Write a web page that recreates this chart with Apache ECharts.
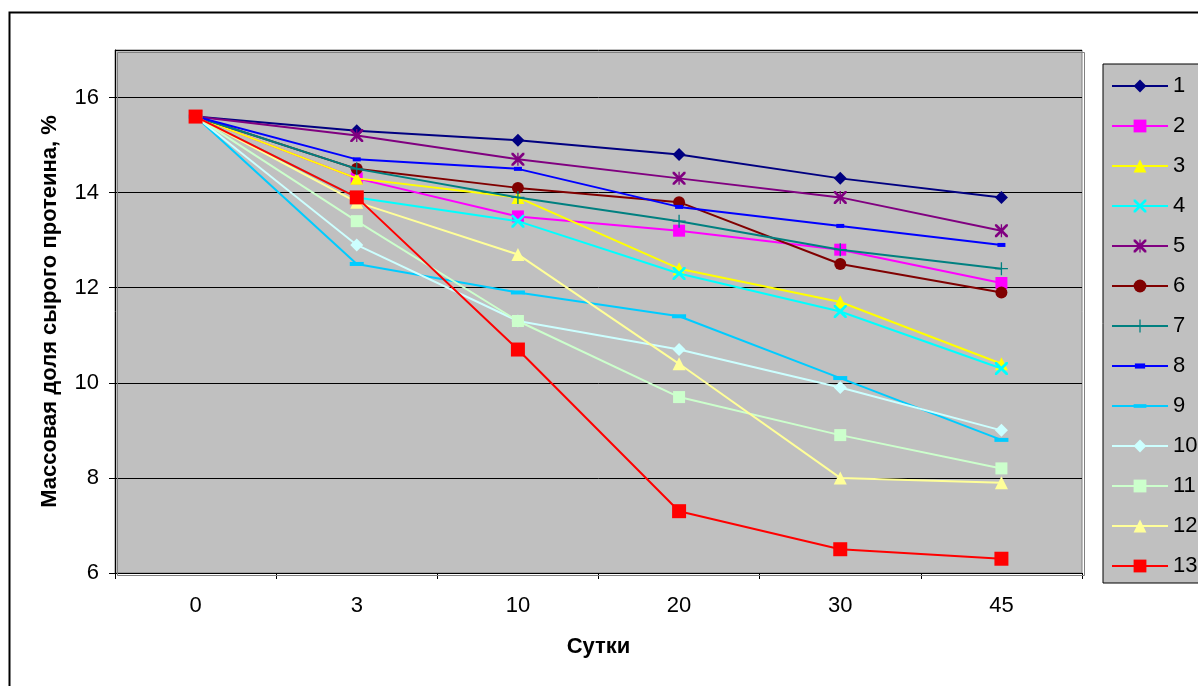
<!DOCTYPE html>
<html>
<head>
<meta charset="utf-8">
<script src="https://cdn.jsdelivr.net/npm/echarts@6/dist/echarts.min.js"></script>
<style>
  html, body { margin: 0; padding: 0; background: #ffffff; }
  #chart { width: 1198px; height: 686px; }
</style>
</head>
<body>
<div id="chart"></div>
<script>
// Days of storage
const days = ['0', '3', '10', '20', '30', '45'];

// Crude protein mass fraction, % — one array per sample
const s1  = [15.6, 15.3, 15.1, 14.8, 14.3, 13.9];
const s2  = [15.6, 14.3, 13.5, 13.2, 12.8, 12.1];
const s3  = [15.6, 14.3, 13.9, 12.4, 11.7, 10.4];
const s4  = [15.6, 13.9, 13.4, 12.3, 11.5, 10.3];
const s5  = [15.6, 15.2, 14.7, 14.3, 13.9, 13.2];
const s6  = [15.6, 14.5, 14.1, 13.8, 12.5, 11.9];
const s7  = [15.6, 14.5, 13.9, 13.4, 12.8, 12.4];
const s8  = [15.6, 14.7, 14.5, 13.7, 13.3, 12.9];
const s9  = [15.6, 12.5, 11.9, 11.4, 10.1, 8.8];
const s10 = [15.6, 12.9, 11.3, 10.7, 9.9, 9.0];
const s11 = [15.6, 13.4, 11.3, 9.7, 8.9, 8.2];
const s12 = [15.6, 13.8, 12.7, 10.4, 8.0, 7.9];
const s13 = [15.6, 13.9, 10.7, 7.3, 6.5, 6.3];

const seriesNames = ['1', '2', '3', '4', '5', '6', '7', '8', '9', '10', '11', '12', '13'];
const seriesData = [s1, s2, s3, s4, s5, s6, s7, s8, s9, s10, s11, s12, s13];

// Marker shapes (the leading moveTo points only set a square bounding box)
const CROSS = 'path://M0,0L3,0L10,7L17,0L20,0L20,3L13,10L20,17L20,20L17,20L10,13L3,20L0,20L0,17L7,10L0,3Z';
const PLUS = 'path://M9,0L11,0L11,9L20,9L20,11L11,11L11,20L9,20L9,11L0,11L0,9L9,9Z';
const STAR = 'path://M0,0L3,0L10,7L17,0L20,0L20,3L13,10L20,17L20,20L17,20L10,13L3,20L0,20L0,17L7,10L0,3Z' +
             'M9,0L11,0L11,20L9,20Z';
const SHORT_DASH = 'path://M0,0M10,10M1,3L9,3L9,7L1,7Z';
const LONG_DASH = 'path://M0,0M14,14M0,5L14,5L14,9L0,9Z';

const styles = [
  { color: '#000080', symbol: 'diamond',  size: 13 },
  { color: '#FF00FF', symbol: 'rect',     size: 12 },
  { color: '#FFFF00', symbol: 'triangle', size: 13 },
  { color: '#00FFFF', symbol: CROSS,      size: 13 },
  { color: '#800080', symbol: STAR,       size: 13 },
  { color: '#800000', symbol: 'circle',   size: 12 },
  { color: '#008080', symbol: PLUS,       size: 13 },
  { color: '#0000FF', symbol: SHORT_DASH, size: 10 },
  { color: '#00CCFF', symbol: LONG_DASH,  size: 14 },
  { color: '#CCFFFF', symbol: 'diamond',  size: 13 },
  { color: '#CCFFCC', symbol: 'rect',     size: 12 },
  { color: '#FFFF99', symbol: 'triangle', size: 13 },
  { color: '#FF0000', symbol: 'rect',     size: 14 }
];

const FONT = 'Arial, "Liberation Sans", sans-serif';

const chart = echarts.init(document.getElementById('chart'), null, { renderer: 'canvas' });

const series = seriesData.map((d, i) => ({
  name: seriesNames[i],
  type: 'line',
  data: d,
  symbol: styles[i].symbol,
  symbolSize: styles[i].size,
  showAllSymbol: true,
  color: styles[i].color,
  lineStyle: { color: styles[i].color, width: 2 },
  itemStyle: { color: styles[i].color, borderWidth: 0 },
  emphasis: { disabled: true },
  animation: false,
  z: 3 + i
}));

chart.setOption({
  animation: false,
  backgroundColor: '#ffffff',
  grid: {
    left: 115, right: 116, top: 50, bottom: 113,
    show: true,
    backgroundColor: '#C0C0C0',
    borderColor: '#808080',
    borderWidth: 1
  },
  legend: {
    orient: 'vertical',
    left: 1103,
    top: 64,
    padding: [11, 30, 6, 8],
    itemWidth: 56,
    itemHeight: 16,
    itemGap: 18,
    backgroundColor: '#C0C0C0',
    borderColor: '#000000',
    borderWidth: 1,
    borderRadius: 0,
    selectedMode: false,
    textStyle: { fontFamily: FONT, fontSize: 22, lineHeight: 20, color: '#000000' },
    data: seriesNames
  },
  xAxis: {
    type: 'category',
    data: days,
    boundaryGap: true,
    name: 'Сутки',
    nameLocation: 'middle',
    nameGap: 63,
    nameTextStyle: { fontFamily: FONT, fontSize: 22, fontWeight: 'bold', color: '#000000' },
    axisLine: { show: true, lineStyle: { color: '#000000', width: 1 } },
    axisTick: { show: true, alignWithLabel: false, length: 6, lineStyle: { color: '#000000' } },
    axisLabel: { margin: 22, fontFamily: FONT, fontSize: 22, color: '#000000' },
    splitLine: { show: false }
  },
  yAxis: {
    type: 'value',
    min: 6,
    max: 17,
    interval: 2,
    name: 'Массовая доля сырого протеина, %',
    nameLocation: 'middle',
    nameGap: 54,
    nameTextStyle: { fontFamily: FONT, fontSize: 22, fontWeight: 'bold', color: '#000000' },
    axisLine: { show: true, lineStyle: { color: '#000000', width: 1 } },
    axisTick: { show: true, length: 6, lineStyle: { color: '#000000' } },
    axisLabel: {
      margin: 16, fontFamily: FONT, fontSize: 22, color: '#000000',
      showMaxLabel: false,
      formatter: v => (v > 16 ? '' : String(v))
    },
    splitLine: { show: true, lineStyle: { color: '#000000', width: 1 } }
  },
  graphic: [
    {
      type: 'rect',
      left: 7, top: 10,
      shape: { width: 1300, height: 800 },
      style: { fill: 'none', stroke: '#000000', lineWidth: 2 },
      silent: true,
      z: -1
    },
    {
      type: 'rect',
      left: 115, top: 50,
      shape: { width: 967, height: 523 },
      style: { fill: 'none', stroke: '#808080', lineWidth: 1 },
      silent: true,
      z: 1
    }
  ],
  series: series
});
</script>
</body>
</html>
